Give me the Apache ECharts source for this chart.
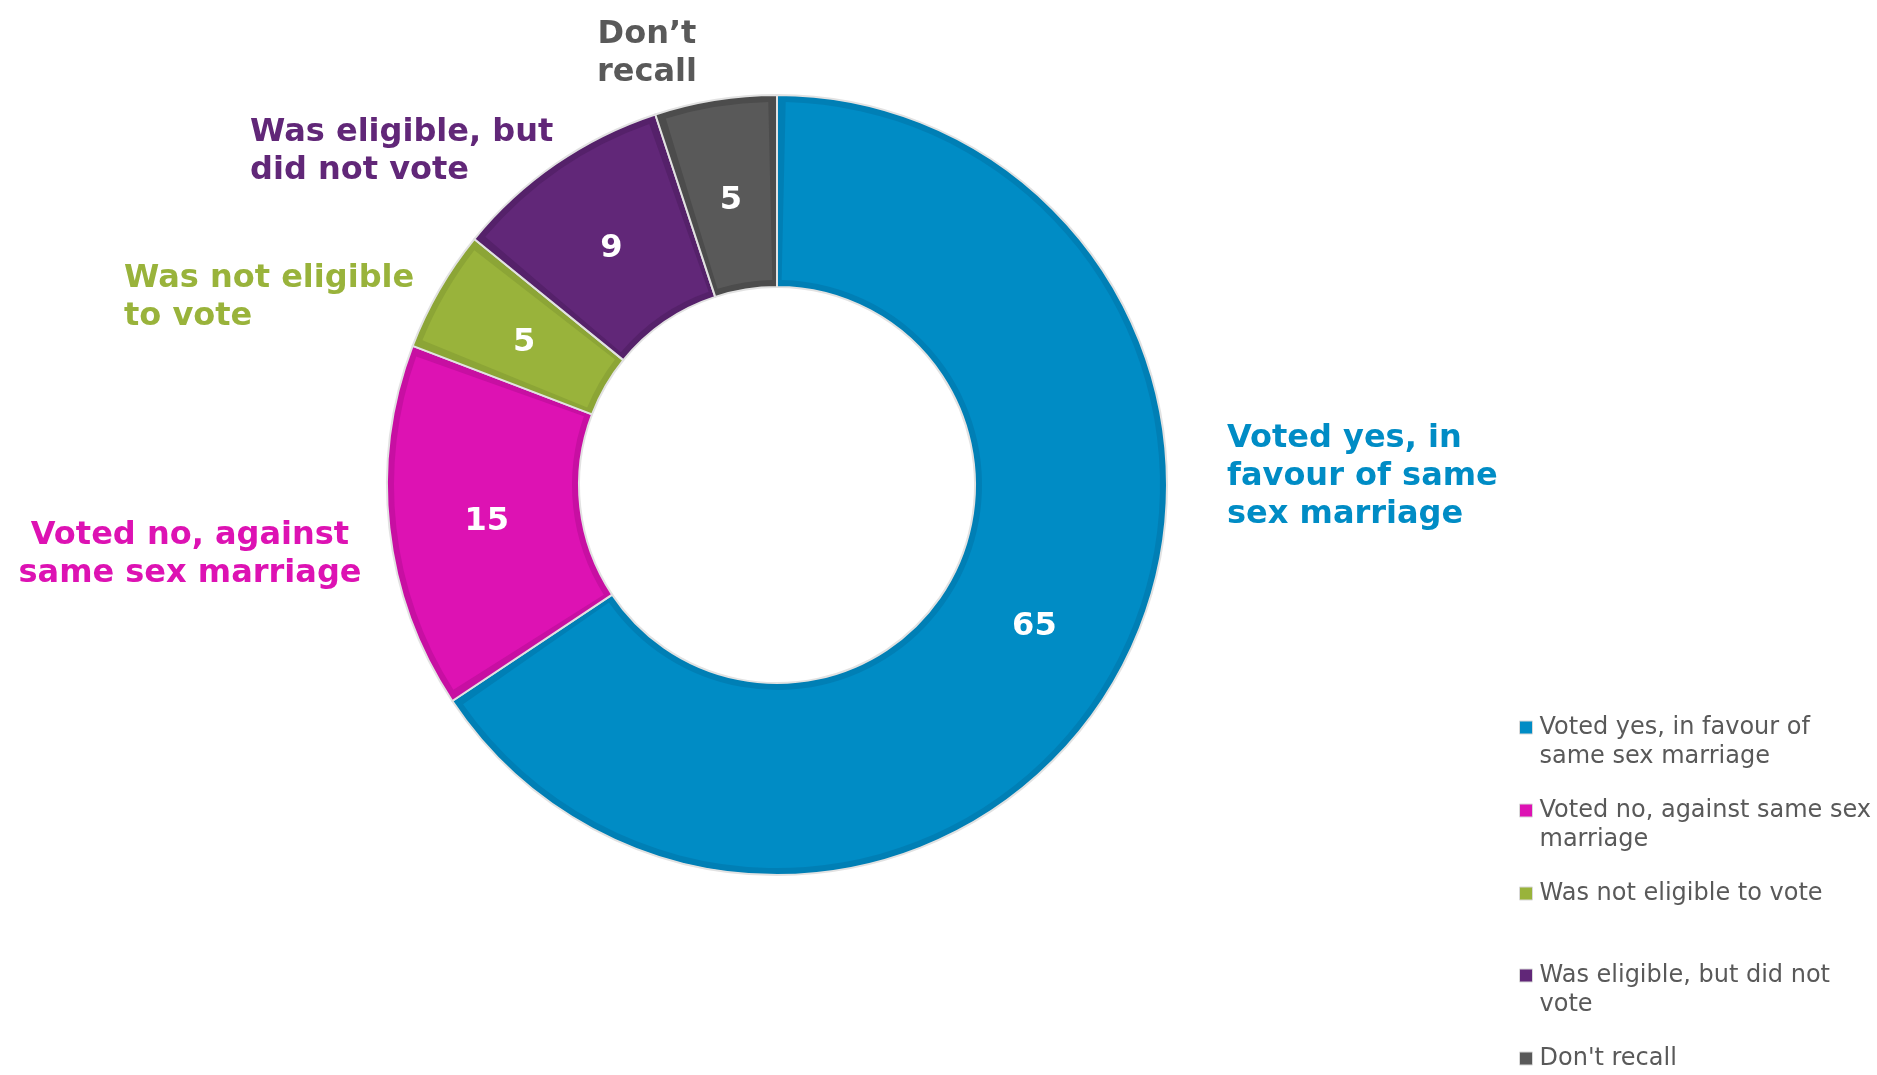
<!DOCTYPE html>
<html>
<head>
<meta charset="utf-8">
<script src="https://cdn.jsdelivr.net/npm/echarts@6/dist/echarts.min.js"></script>
<style>
html,body{margin:0;padding:0;background:#ffffff;}
#chart{width:1877px;height:1075px;}
</style>
</head>
<body>
<div id="chart"></div>
<script>
const categories = [
  'Voted yes, in favour of same sex marriage',
  'Voted no, against same sex marriage',
  'Was not eligible to vote',
  'Was eligible, but did not vote',
  "Don't recall"
];
const values = [65, 15, 5, 9, 5];
const sliceLabels = [
  'Voted yes, in\nfavour of same\nsex marriage',
  'Voted no, against\nsame sex marriage',
  'Was not eligible\nto vote',
  'Was eligible, but\ndid not vote',
  'Don\u2019t\nrecall'
];
const legendLabels = [
  'Voted yes, in favour of\nsame sex marriage',
  'Voted no, against same sex\nmarriage',
  'Was not eligible to vote',
  'Was eligible, but did not\nvote',
  "Don't recall"
];
const colors = ['#008cc5', '#dd12b3', '#99b33b', '#612778', '#595959'];
const edgeColors = ['#007fb5', '#c70fa2', '#8ca536', '#55216a', '#4c4c4c'];
const labelPos = [
  {x: 1227, y: 420, align: 'left'},
  {x: 190, y: 517, align: 'center'},
  {x: 124, y: 260, align: 'left'},
  {x: 250, y: 114, align: 'left'},
  {x: 647, y: 16, align: 'center'}
];
const legendTops = [684, 767, 879, 932, 1044];

const FONT = "'DejaVu Sans', Verdana, sans-serif";
const CX = 777, CY = 485;
const chart = echarts.init(document.getElementById('chart'), null, {renderer: 'canvas'});

const mainData = categories.map((n, i) => ({name: n, value: values[i], itemStyle: {color: colors[i]}}));
const edgeData = categories.map((n, i) => ({name: n, value: values[i], itemStyle: {color: edgeColors[i]}, label: {color: colors[i]}}));

const legends = categories.map((n, i) => {
  const two = legendLabels[i].indexOf('\n') >= 0;
  return {
    orient: 'vertical',
    left: 1519,
    top: legendTops[i],
    padding: 0,
    data: [n],
    icon: 'rect',
    itemWidth: 13,
    itemHeight: 13,
    selectedMode: false,
    itemStyle: {borderColor: '#d9d9d9', borderWidth: 1},
    formatter: function () { return two ? '\n' + legendLabels[i] : legendLabels[i]; },
    textStyle: {
      fontFamily: FONT,
      fontSize: 24,
      color: '#595959',
      lineHeight: 29,
      padding: [0, 0, 0, 2]
    }
  };
});

const option = {
  animation: false,
  backgroundColor: '#ffffff',
  legend: legends,
  series: [
    {
      type: 'pie',
      name: 'main',
      z: 3,
      center: [CX, CY],
      radius: [205, 383],
      startAngle: 90,
      clockwise: true,
      padAngle: 2.6,
      silent: true,
      emphasis: {disabled: true},
      data: mainData,
      label: {
        show: true,
        position: 'inside',
        formatter: '{c}',
        color: '#ffffff',
        fontFamily: FONT,
        fontWeight: 'bold',
        fontSize: 32
      },
      labelLine: {show: false},
      labelLayout: function (p) {
        const r = p.labelRect;
        const lx = r.x + r.width / 2 - CX;
        const ly = r.y + r.height / 2 - CY;
        const d = Math.sqrt(lx * lx + ly * ly) || 1;
        return {dx: -5 * lx / d, dy: -5 * ly / d + 4};
      }
    },
    {
      type: 'pie',
      name: 'edge',
      z: 2,
      center: [CX, CY],
      radius: [198, 390],
      startAngle: 90,
      clockwise: true,
      silent: true,
      avoidLabelOverlap: false,
      emphasis: {disabled: true},
      data: edgeData,
      itemStyle: {borderColor: '#e2e2e2', borderWidth: 2},
      label: {
        show: true,
        position: 'outside',
        formatter: function (p) { return sliceLabels[p.dataIndex]; },
        fontFamily: FONT,
        fontWeight: 'bold',
        fontSize: 32,
        lineHeight: 38
      },
      labelLine: {show: false},
      labelLayout: function (p) {
        const pos = labelPos[p.dataIndex];
        return {x: pos.x, y: pos.y, align: pos.align, verticalAlign: 'top'};
      }
    }
  ]
};
chart.setOption(option);
</script>
</body>
</html>
